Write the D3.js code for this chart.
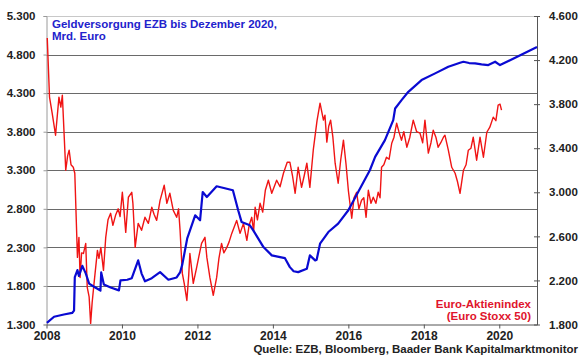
<!DOCTYPE html>
<html>
<head>
<meta charset="utf-8">
<script src="https://cdn.jsdelivr.net/npm/d3@7"></script>
<style>
  body { margin: 0; background: #fff; }
  text { font-family: "Liberation Sans", Arial, sans-serif; font-weight: bold; }
</style>
</head>
<body>
<div id="chart"></div>
<script>
// Geldversorgung EZB (Mrd. Euro, left axis) - decimal years
const ecbTime = [2008.01, 2008.2, 2008.46, 2008.68, 2008.73, 2008.75, 2008.82, 2008.86, 2008.95, 2009.04,
  2009.13, 2009.26, 2009.43, 2009.45, 2009.52, 2009.7, 2009.92, 2009.96, 2010.14, 2010.26,
  2010.43, 2010.52, 2010.61, 2010.79, 2011.01, 2011.23, 2011.45, 2011.54, 2011.6, 2011.73,
  2011.94, 2012.07, 2012.14, 2012.25, 2012.51, 2012.94, 2013.08, 2013.17, 2013.39, 2013.48,
  2013.75, 2013.97, 2014.19, 2014.32, 2014.45, 2014.55, 2014.67, 2014.9, 2014.98, 2015.12,
  2015.16, 2015.25, 2015.47, 2015.73, 2016.0, 2016.26, 2016.57, 2016.71, 2016.97, 2017.19,
  2017.24, 2017.41, 2017.59, 2017.94, 2018.3, 2018.65, 2018.96, 2019.05, 2019.2, 2019.36,
  2019.53, 2019.71, 2019.89, 2020.02, 2021.0];
const ecbValue = [1320, 1400, 1430, 1450, 1480, 1914, 2005, 1930, 2060, 1963,
  1830, 1790, 1740, 1975, 1820, 1780, 1742, 1872, 1880, 1900,
  2131, 1960, 1860, 1900, 1979, 1880, 1910, 1975, 2080, 2417,
  2716, 2651, 3018, 2953, 3092, 3040, 2781, 2630, 2586, 2521,
  2304, 2196, 2174, 2160, 2044, 1990, 1979, 2022, 2196, 2131,
  2140, 2348, 2499, 2608, 2781, 3018, 3300, 3473, 3690, 3950,
  4101, 4209, 4317, 4469, 4556, 4642, 4694, 4707, 4690, 4686,
  4673, 4664, 4707, 4664, 4897];

// Euro Stoxx 50 (right axis)
const stoxxTime = [2008.02, 2008.08, 2008.15, 2008.24, 2008.33, 2008.38, 2008.42, 2008.51, 2008.56, 2008.6,
  2008.65, 2008.71, 2008.75, 2008.82, 2008.86, 2008.89, 2008.93, 2008.98, 2009.04, 2009.08,
  2009.13, 2009.17, 2009.21, 2009.26, 2009.35, 2009.39, 2009.44, 2009.51, 2009.57, 2009.63,
  2009.7, 2009.76, 2009.83, 2009.9, 2009.95, 2010.01, 2010.05, 2010.1, 2010.17, 2010.26,
  2010.29, 2010.35, 2010.43, 2010.52, 2010.61, 2010.7, 2010.79, 2010.85, 2010.92, 2011.01,
  2011.12, 2011.19, 2011.27, 2011.36, 2011.45, 2011.5, 2011.54, 2011.6, 2011.65, 2011.72,
  2011.77, 2011.8, 2011.89, 2011.98, 2012.04, 2012.11, 2012.2, 2012.25, 2012.33, 2012.42,
  2012.51, 2012.57, 2012.64, 2012.7, 2012.78, 2012.84, 2012.91, 2013.04, 2013.13, 2013.22,
  2013.31, 2013.37, 2013.44, 2013.49, 2013.53, 2013.59, 2013.66, 2013.73, 2013.8, 2013.88,
  2013.97, 2014.1, 2014.19, 2014.28, 2014.38, 2014.45, 2014.52, 2014.59, 2014.67, 2014.76,
  2014.83, 2014.9, 2014.98, 2015.07, 2015.17, 2015.25, 2015.34, 2015.38, 2015.43, 2015.48,
  2015.53, 2015.59, 2015.65, 2015.73, 2015.8, 2015.87, 2015.94, 2016.0, 2016.09, 2016.15,
  2016.22, 2016.28, 2016.35, 2016.41, 2016.47, 2016.53, 2016.6, 2016.66, 2016.73, 2016.79,
  2016.84, 2016.88, 2016.94, 2017.01, 2017.08, 2017.15, 2017.21, 2017.28, 2017.34, 2017.41,
  2017.47, 2017.55, 2017.63, 2017.72, 2017.81, 2017.9, 2017.97, 2018.03, 2018.12, 2018.19,
  2018.25, 2018.32, 2018.38, 2018.45, 2018.52, 2018.56, 2018.65, 2018.74, 2018.83, 2018.89,
  2018.96, 2019.05, 2019.12, 2019.18, 2019.25, 2019.31, 2019.4, 2019.49, 2019.58, 2019.67,
  2019.75, 2019.84, 2019.91, 2019.97, 2020.02, 2020.06];
const stoxxValue = [4400, 3864, 3718, 3518, 3864, 3773, 3882, 3200, 3330, 3382,
  3250, 3227, 3173, 2409, 2591, 2227, 2450, 2445, 2536, 2136,
  2050, 1810, 2000, 2173, 2473, 2400, 2500, 2291, 2591, 2750,
  2809, 2700, 2791, 2850, 2780, 3000, 2850, 2636, 2955, 3000,
  2900, 2500, 2718, 2655, 2773, 2718, 2864, 2800, 2745, 2927,
  3064, 2900, 2991, 2836, 2773, 2850, 2655, 2264, 2173, 2018,
  2250, 2445, 2173, 2318, 2420, 2536, 2591, 2409, 2227, 2064,
  2227, 2400, 2536, 2450, 2500, 2550, 2627, 2745, 2627, 2718,
  2564, 2700, 2773, 2650, 2864, 2750, 2900, 2820, 3018, 3109,
  2991, 3109, 3050, 3173, 3273, 3273, 3150, 2991, 3227, 3045,
  3150, 3264, 3045, 3382, 3650, 3809, 3655, 3700, 3455, 3600,
  3655, 3500, 3264, 3082, 3300, 3473, 3250, 3018, 2764, 2950,
  3000, 2850, 2927, 2950, 2773, 3018, 2900, 2955, 2900, 3000,
  2950, 3227, 3250, 3318, 3300, 3445, 3500, 3627, 3550, 3473,
  3550, 3409, 3500, 3655, 3550, 3536, 3450, 3655, 3355, 3450,
  3564, 3500, 3409, 3450, 3500, 3518, 3382, 3227, 3173, 3100,
  2991, 3200, 3250, 3382, 3400, 3500, 3291, 3500, 3318, 3545,
  3591, 3682, 3650, 3791, 3800, 3745];

const leftTicks = [1300, 1800, 2300, 2800, 3300, 3800, 4300, 4800, 5300];
const rightTicks = [1800, 2200, 2600, 3000, 3400, 3800, 4200, 4600];
const yearTicks = [2008, 2010, 2012, 2014, 2016, 2018, 2020];

const width = 580, height = 359;
const plot = { left: 46.5, right: 537, top: 16, bottom: 324.5 };

const de = d3.formatLocale({ decimal: ",", thousands: ".", grouping: [3], currency: ["", " €"] });
const fmt = de.format(",");

const svg = d3.select("#chart")
      .append("svg")
      .attr("width", width)
      .attr("height", height);

svg.append("rect").attr("width", width).attr("height", height).attr("fill", "#fff");

const x = d3.scaleLinear().domain([2008, 2021]).range([plot.left, plot.right]);
const yLeft = d3.scaleLinear().domain([1300, 5300]).range([plot.bottom, plot.top]);
const yRight = d3.scaleLinear().domain([1800, 4600]).range([plot.bottom, plot.top]);

// gridlines
svg.selectAll("line.grid")
    .data(leftTicks.slice(1))
    .enter()
    .append("line")
    .attr("class", "grid")
    .attr("x1", plot.left).attr("x2", plot.right)
    .attr("y1", d => Math.round(yLeft(d)) + 0.5)
    .attr("y2", d => Math.round(yLeft(d)) + 0.5)
    .attr("stroke", d => d === 5300 ? "#c8c8c8" : "#6a6a6a")
    .attr("stroke-width", 1);

// left axis
const leftAxis = svg.append("g")
    .attr("transform", `translate(${plot.left},0)`)
    .call(d3.axisLeft(yLeft).tickValues(leftTicks).tickFormat(fmt).tickSize(3).tickPadding(8));
leftAxis.select(".domain").attr("stroke", "#9a9a9a");
leftAxis.selectAll(".tick line").attr("stroke", "#9a9a9a");
leftAxis.selectAll("text").attr("font-size", 11.5).attr("fill", "#222")
    .attr("font-family", "Liberation Sans, Arial, sans-serif");

// right axis
const rightAxis = svg.append("g")
    .attr("transform", `translate(${plot.right},0)`)
    .call(d3.axisRight(yRight).tickValues(rightTicks).tickFormat(fmt).tickSizeInner(3).tickSizeOuter(0).tickPadding(9));
rightAxis.select(".domain").attr("stroke", "#555");
rightAxis.selectAll(".tick line").attr("stroke", "#555").attr("x1", -3);
rightAxis.selectAll("text").attr("font-size", 11.5).attr("fill", "#222")
    .attr("font-family", "Liberation Sans, Arial, sans-serif");

// bottom axis
const bottomAxis = svg.append("g")
    .attr("transform", `translate(0,${plot.bottom})`)
    .call(d3.axisBottom(x).tickValues(yearTicks).tickFormat(d3.format("d")).tickSizeInner(4).tickSizeOuter(0).tickPadding(3));
bottomAxis.select(".domain").attr("stroke", "#555");
bottomAxis.selectAll(".tick line").attr("stroke", "#555");
bottomAxis.selectAll("text").attr("font-size", 12).attr("fill", "#222")
    .attr("font-family", "Liberation Sans, Arial, sans-serif");

// series
const stoxx = stoxxTime.map((t, i) => [t, stoxxValue[i]]);
const ecb = ecbTime.map((t, i) => [t, ecbValue[i]]);

svg.append("path")
    .datum(stoxx)
    .attr("d", d3.line().x(d => x(d[0])).y(d => yRight(d[1])))
    .attr("fill", "none")
    .attr("stroke", "#f01414")
    .attr("stroke-width", 1.4)
    .attr("stroke-linejoin", "round");

svg.append("path")
    .datum(ecb)
    .attr("d", d3.line().x(d => x(d[0])).y(d => yLeft(d[1])))
    .attr("fill", "none")
    .attr("stroke", "#0a0ad2")
    .attr("stroke-width", 2.2)
    .attr("stroke-linejoin", "round");

// labels
svg.append("text")
    .attr("x", 52).attr("y", 28.3)
    .attr("font-size", 11.5).attr("fill", "#2222cc")
    .text("Geldversorgung EZB bis Dezember 2020,");
svg.append("text")
    .attr("x", 52).attr("y", 39.5)
    .attr("font-size", 11.5).attr("fill", "#2222cc")
    .text("Mrd. Euro");

svg.append("text")
    .attr("x", 531).attr("y", 307.5)
    .attr("text-anchor", "end")
    .attr("font-size", 11.5).attr("fill", "#e0142c")
    .text("Euro-Aktienindex");
svg.append("text")
    .attr("x", 531).attr("y", 320)
    .attr("text-anchor", "end")
    .attr("font-size", 11.5).attr("fill", "#e0142c")
    .text("(Euro Stoxx 50)");

svg.append("text")
    .attr("x", 578).attr("y", 353)
    .attr("text-anchor", "end")
    .attr("font-size", 11.5).attr("fill", "#222")
    .text("Quelle: EZB, Bloomberg, Baader Bank Kapitalmarktmonitor");
</script>
</body>
</html>
